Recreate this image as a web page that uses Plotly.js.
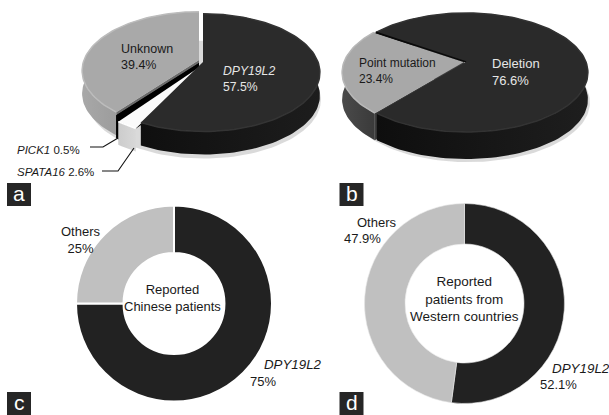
<!DOCTYPE html>
<html><head><meta charset="utf-8">
<script src="https://cdn.plot.ly/plotly-3.0.1.min.js"></script>
<style>html,body{margin:0;padding:0;background:#fff}</style></head>
<body><div id="chart" style="width:609px;height:415px"></div>
<script>
// Data
var panelALabels = ['DPY19L2', 'SPATA16', 'PICK1', 'Unknown'];
var panelAValues = [57.5, 2.6, 0.5, 39.4];
var panelBLabels = ['Point mutation', 'Deletion'];
var panelBValues = [23.4, 76.6];
var panelCLabels = ['DPY19L2', 'Others'];
var panelCValues = [75, 25];
var panelDLabels = ['DPY19L2', 'Others'];
var panelDValues = [52.1, 47.9];
var tags = ['a', 'b', 'c', 'd'];

var W = 609, H = 415, FONT = '"Liberation Sans", Arial, sans-serif';
var traces = [];

function pt(g, deg, off) {
  var t = deg * Math.PI / 180, u = Math.sin(t), v = -Math.cos(t), s = 1 / (1 - g.p * v);
  return [g.cx + off[0] + g.rx * u * s, g.cy + off[1] + g.ry * v * s];
}
function arc(g, a, b, off, dy) {
  var n = Math.max(2, Math.ceil(Math.abs(b - a) / 2)), out = [];
  for (var i = 0; i <= n; i++) {
    var q = pt(g, a + (b - a) * i / n, off); out.push([q[0], q[1] + (dy || 0)]);
  }
  return out;
}
function poly(points, style) {
  var tr = {type: 'scatter', mode: 'lines', hoverinfo: 'skip', showlegend: false, cliponaxis: false,
    x: points.map(function (q) { return q[0]; }), y: points.map(function (q) { return q[1]; }),
    line: {width: 0}, fill: 'toself'};
  for (var k in style) tr[k] = style[k];
  traces.push(tr);
}
function stroke(points, color, width) {
  traces.push({type: 'scatter', mode: 'lines', hoverinfo: 'skip', showlegend: false,
    x: points.map(function (q) { return q[0]; }), y: points.map(function (q) { return q[1]; }),
    line: {color: color, width: width}});
}
function grad(c0, c1) { return {type: 'horizontal', colorscale: [[0, c0], [1, c1]]}; }

function wedgeSide(g, a, b, off, st) {
  var apex = [g.cx + off[0], g.cy + off[1]];
  if (st.cut) {
    var e0 = pt(g, a, off), e1 = pt(g, b, off);
    poly([apex, e0, [e0[0], e0[1] + g.d], [apex[0], apex[1] + g.d]], {fillcolor: st.cut});
    poly([apex, e1, [e1[0], e1[1] + g.d], [apex[0], apex[1] + g.d]], {fillcolor: st.cut});
  }
  var top = arc(g, a, b, off, 0), bot = arc(g, a, b, off, g.d).reverse();
  poly(top.concat(bot), {fillgradient: grad(st.side0, st.side1), fillcolor: st.side0});
}
function wedgeTop(g, a, b, off, st) {
  var apex = [g.cx + off[0], g.cy + off[1]], top = arc(g, a, b, off, 0);
  poly([apex].concat(top), {fillcolor: st.top});
  if (st.rim) stroke(top, st.rim, 1.5);
}
function shadow(g) {
  poly(arc(g, 0, 360, [3, 2], g.d + 1), {fillcolor: 'rgba(150,150,150,0.35)'});
}

// Panel a
var gA = {cx: 201, cy: 63, rx: 115, ry: 57, p: 0.18, d: 23};
var offA = [[2, -1], [-3, 5], [-2, 0], [-2, -3]];
var stA = [
  {top: '#2b2b2b', side0: '#0f0f0f', side1: '#1d1d1d', rim: '#343434'},
  {top: '#fbfbfb', side0: '#cccccc', side1: '#d8d8d8', rim: '#ffffff'},
  {top: '#000000', side0: '#000000', side1: '#000000', cut: '#000000'},
  {top: '#a9a9a9', side0: '#a8a8a8', side1: '#808080', rim: '#bcbcbc', cut: '#6a6a6a'}
];
shadow(gA);
var ang = [], acc = 0;
panelAValues.forEach(function (v) { ang.push([acc * 3.6, (acc + v) * 3.6]); acc += v; });
[3, 2, 1, 0].forEach(function (i) { wedgeSide(gA, ang[i][0], ang[i][1], offA[i], stA[i]); });
[3, 2, 1, 0].forEach(function (i) { wedgeTop(gA, ang[i][0], ang[i][1], offA[i], stA[i]); });

// Panel b
var gB = {cx: 465, cy: 62, rx: 120, ry: 57.7, p: 0.177, d: 27};
var startB = 220;
var bGrayEnd = startB + panelBValues[0] * 3.6;
var stB0 = {top: '#a8a8a8', side0: '#4a4a4a', side1: '#3a3a3a', cut: '#3c3c3c', rim: '#b8b8b8'};
var stB1 = {top: '#2a2a2a', side0: '#0e0e0e', side1: '#1e1e1e', rim: '#333333'};
var offB0 = [-1, 0], offB1 = [1, 0];
shadow(gB);
wedgeSide(gB, startB, bGrayEnd, offB0, stB0);
wedgeSide(gB, bGrayEnd, bGrayEnd + panelBValues[1] * 3.6, offB1, stB1);
wedgeTop(gB, startB, bGrayEnd, offB0, stB0);
wedgeTop(gB, bGrayEnd, bGrayEnd + panelBValues[1] * 3.6, offB1, stB1);
stroke([[gB.cx + offB1[0], gB.cy + offB1[1]], pt(gB, bGrayEnd, offB1)], '#0a0a0a', 1.8);

// Panels c, d (real doughnuts)
function donut(labels, values, cx, cy, r, hole, lineColor, lineWidth) {
  traces.push({type: 'pie', labels: labels, values: values, sort: false, direction: 'clockwise', rotation: 0,
    hole: hole, textinfo: 'none', hoverinfo: 'skip', showlegend: false,
    domain: {x: [(cx - r) / W, (cx + r) / W], y: [1 - (cy + r) / H, 1 - (cy - r) / H]},
    marker: {colors: ['#222222', '#c0c0c0'], line: {color: lineColor, width: lineWidth}}});
}
donut(panelCLabels, panelCValues, 174, 303.5, 98, 0.515, '#ffffff', 2);
donut(panelDLabels, panelDValues, 464.5, 303.5, 100, 0.595, '#e8e8e8', 0.6);

// Text
function note(text, x, y, opt) {
  opt = opt || {};
  return {text: text, x: x, y: y, xref: 'x', yref: 'y', showarrow: false,
    xanchor: opt.anchor || 'left', yanchor: 'middle', align: opt.anchor === 'center' ? 'center' : 'left',
    font: {family: FONT, size: opt.size || 13, color: opt.color || '#1a1a1a'}};
}
var annotations = [
  note('Unknown<br>39.4%', 119, 57, {size: 12.5}),
  note('<i>' + panelALabels[0] + '</i><br>' + panelAValues[0] + '%', 221, 79, {color: '#e6e6e6', size: 12.2}),
  note('<i>' + panelALabels[2] + '</i> ' + panelAValues[2] + '%', 15, 150, {size: 11.5}),
  note('<i>' + panelALabels[1] + '</i> ' + panelAValues[1] + '%', 15, 172, {size: 11.5}),
  note(panelBLabels[0] + '<br>' + panelBValues[0] + '%', 357, 71, {size: 12}),
  note(panelBLabels[1] + '<br>' + panelBValues[1] + '%', 490, 72, {color: '#e6e6e6'}),
  note('Others<br>' + panelCValues[1] + '%', 81, 240, {anchor: 'center'}),
  note('<i>' + panelCLabels[0] + '</i>', 262, 364, {size: 13.3}),
  note(panelCValues[0] + '%', 248, 381),
  note('Others', 355, 222),
  note(panelDValues[1] + '%', 342, 238),
  note('<i>' + panelDLabels[0] + '</i>', 550, 368, {size: 13.4}),
  note(panelDValues[0] + '%', 538, 384),
  note('Reported<br>Chinese patients', 172, 298, {anchor: 'center'}),
  note('Reported<br>patients from<br>Western countries', 464, 299, {anchor: 'center', size: 13.5})
];
var tagPos = [[19, 194.5], [351.5, 194.5], [19, 403.5], [351.5, 403.5]];
var shapes = tags.map(function (t, i) {
  return {type: 'rect', xref: 'x', yref: 'y', layer: 'above', line: {width: 0}, fillcolor: '#262626',
    x0: tagPos[i][0] - 12, x1: tagPos[i][0] + 12, y0: tagPos[i][1] - 11.5, y1: tagPos[i][1] + 11.5};
});
tags.forEach(function (t, i) {
  annotations.push(note(t, tagPos[i][0], tagPos[i][1] - 1, {anchor: 'center', size: 21, color: '#ffffff'}));
});
shapes.push({type: 'path', xref: 'x', yref: 'y', layer: 'above', line: {color: '#111', width: 1.1}, path: 'M118,138 L103,147 L90,147'});
shapes.push({type: 'path', xref: 'x', yref: 'y', layer: 'above', line: {color: '#111', width: 1.1}, path: 'M134,148 L118,171 L102,171'});

Plotly.newPlot('chart', traces, {
  width: W, height: H, margin: {l: 0, r: 0, t: 0, b: 0}, autosize: false,
  paper_bgcolor: '#fff', plot_bgcolor: '#fff', showlegend: false,
  xaxis: {range: [0, W], visible: false, fixedrange: true},
  yaxis: {range: [H, 0], visible: false, fixedrange: true},
  annotations: annotations, shapes: shapes
}, {staticPlot: true, displayModeBar: false});
</script></body></html>
